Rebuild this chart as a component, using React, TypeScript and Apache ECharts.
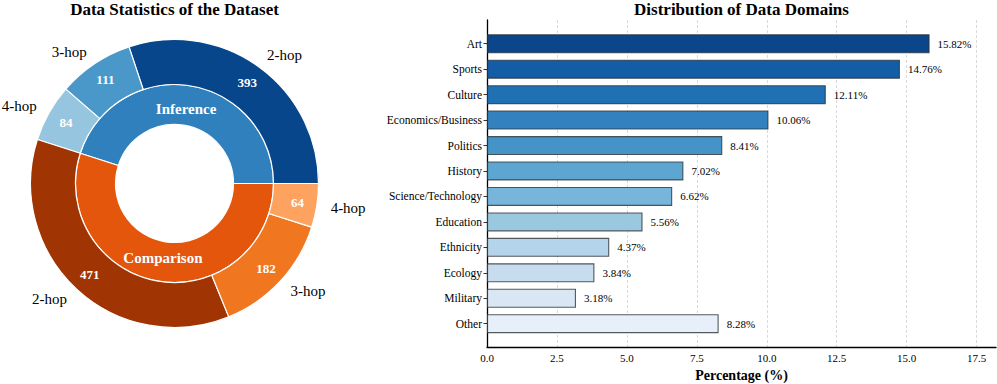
import React, { useEffect, useRef } from "react";
import * as echarts from "echarts";

// ---- Data: donut (left) ----
const hopLabels = ["2-hop", "3-hop", "4-hop"];
const inferenceHops = [393, 111, 84];
const comparisonHops = [471, 182, 64];
const groupNames = ["Inference", "Comparison"];
const inferenceColors = ["#08468c", "#4a98c9", "#96c5df"];
const comparisonColors = ["#a03503", "#f07620", "#fda35f"];
const groupColors = ["#3080bd", "#e4560c"];

// ---- Data: bar chart (right) ----
const domains = [
  "Art", "Sports", "Culture", "Economics/Business", "Politics", "History",
  "Science/Technology", "Education", "Ethnicity", "Ecology", "Military", "Other",
];
const domainPercents = [15.82, 14.76, 12.11, 10.06, 8.41, 7.02, 6.62, 5.56, 4.37, 3.84, 3.18, 8.28];
const domainColors = [
  "#0a4689", "#125da6", "#2070b4", "#3382bf", "#4594c8", "#5ea6d2",
  "#78b5da", "#9ac8e1", "#b3d4ea", "#c8dcf0", "#d9e7f5", "#e7f0fa",
];
const xTickInterval = 2.5;

const FONT = "'Liberation Serif', 'DejaVu Serif', serif";

export default function App() {
  const ref = useRef<HTMLDivElement>(null);

  useEffect(() => {
    document.body.style.margin = "0";
    if (!ref.current) return;
    const chart = echarts.init(ref.current, undefined, { renderer: "svg" });

    const cx = 174.5;
    const cy = 183.5;
    const rHole = 59;
    const rMid = 99;
    const rOut = 144;

    const outerData = [
      ...inferenceHops.map((v, i) => ({ name: hopLabels[i], value: v, itemStyle: { color: inferenceColors[i] } })),
      ...comparisonHops.map((v, i) => ({ name: hopLabels[i], value: v, itemStyle: { color: comparisonColors[i] } })),
    ];
    const sum = (a: number[]) => a.reduce((s, v) => s + v, 0);
    const innerData = [
      { name: groupNames[0], value: sum(inferenceHops), itemStyle: { color: groupColors[0] } },
      { name: groupNames[1], value: sum(comparisonHops), itemStyle: { color: groupColors[1] } },
    ];

    const xMax = Math.max(...domainPercents) * 1.15;
    const gridLeft = 487;
    const gridWidth = 509;

    const pieBase = {
      type: "pie",
      center: [cx, cy],
      startAngle: 0,
      clockwise: false,
      silent: true,
      avoidLabelOverlap: false,
      emphasis: { disabled: true },
      labelLine: { show: false },
    };

    const option: any = {
      animation: false,
      backgroundColor: "#ffffff",
      textStyle: { fontFamily: FONT },
      graphic: [
        {
          type: "text",
          x: cx,
          y: 9,
          style: {
            text: "Data Statistics of the Dataset",
            fill: "#000",
            font: `bold 17px ${FONT}`,
            align: "center",
            verticalAlign: "middle",
          },
        },
        {
          type: "text",
          x: gridLeft + gridWidth / 2,
          y: 9,
          style: {
            text: "Distribution of Data Domains",
            fill: "#000",
            font: `bold 17px ${FONT}`,
            align: "center",
            verticalAlign: "middle",
          },
        },
        {
          type: "text",
          x: gridLeft + gridWidth / 2,
          y: 375,
          style: {
            text: "Percentage (%)",
            fill: "#000",
            font: `bold 14px ${FONT}`,
            align: "center",
            verticalAlign: "middle",
          },
        },
      ],
      grid: [
        { left: gridLeft, top: 20, width: gridWidth, height: 327, containLabel: false },
        { left: gridLeft, top: 31, width: gridWidth, height: 305.4, containLabel: false },
      ],
      xAxis: [
        {
          gridIndex: 0,
          type: "value",
          min: 0,
          max: xMax,
          interval: xTickInterval,
          axisLine: { show: true, lineStyle: { color: "#000", width: 1.3 } },
          axisTick: { show: false },
          axisLabel: {
            show: true,
            color: "#000",
            fontSize: 11,
            fontFamily: FONT,
            margin: 5,
            showMaxLabel: false,
            formatter: (v: number) => v.toFixed(1),
          },
          splitLine: {
            show: true,
            showMinLine: false,
            showMaxLine: false,
            lineStyle: { color: "#d0d0d0", type: [3, 2], width: 0.8 },
          },
        },
        {
          gridIndex: 1,
          type: "value",
          min: 0,
          max: xMax,
          show: false,
        },
      ],
      yAxis: [
        {
          gridIndex: 0,
          type: "value",
          min: 0,
          max: 1,
          axisLine: { show: true, lineStyle: { color: "#000", width: 1.3 } },
          axisTick: { show: false },
          axisLabel: { show: false },
          splitLine: { show: false },
        },
        {
          gridIndex: 1,
          type: "category",
          inverse: true,
          data: domains,
          axisLine: { show: false },
          axisTick: { show: true, alignWithLabel: true, length: 3.5, lineStyle: { color: "#000", width: 0.8 } },
          axisLabel: { color: "#000", fontSize: 11.5, fontFamily: FONT, margin: 5 },
          splitLine: { show: false },
        },
      ],
      series: [
        {
          type: "bar",
          xAxisIndex: 1,
          yAxisIndex: 1,
          barWidth: 19,
          silent: true,
          data: domainPercents.map((v, i) => ({
            value: v,
            itemStyle: { color: domainColors[i] },
          })),
          itemStyle: { borderColor: "rgba(45,50,55,0.8)", borderWidth: 1.1 },
          label: {
            show: true,
            position: "right",
            distance: 8,
            color: "#000",
            fontSize: 11,
            fontFamily: FONT,
            formatter: (p: any) => `${Number(p.value).toFixed(2)}%`,
          },
        },
        {
          ...pieBase,
          radius: [rHole, rMid],
          data: innerData,
          itemStyle: { borderColor: "#fff", borderWidth: 1.2 },
          label: { show: false },
        },
        {
          ...pieBase,
          radius: [rHole, rMid - 14],
          data: innerData.map((d) => ({ name: d.name, value: d.value })),
          itemStyle: { color: "rgba(0,0,0,0)", borderWidth: 0 },
          label: {
            show: true,
            position: "inside",
            formatter: "{b}",
            color: "#fff",
            fontSize: 15,
            fontWeight: "bold",
            fontFamily: FONT,
          },
        },
        {
          ...pieBase,
          radius: [rMid, rOut],
          data: outerData,
          itemStyle: { borderColor: "#fff", borderWidth: 1.2 },
          label: {
            show: true,
            position: "inside",
            formatter: "{c}",
            color: "#fff",
            fontSize: 13,
            fontWeight: "bold",
            fontFamily: FONT,
          },
        },
        {
          ...pieBase,
          radius: [rMid, rOut],
          data: outerData.map((d) => ({ name: d.name, value: d.value })),
          itemStyle: { color: "rgba(0,0,0,0)", borderWidth: 0 },
          label: {
            show: true,
            position: "outside",
            formatter: "{b}",
            color: "#000",
            fontSize: 15,
            fontFamily: FONT,
            distanceToLabelLine: 0,
          },
          labelLine: { show: false, length: 14, length2: 0 },
        },
      ],
    };

    chart.setOption(option);
    return () => {
      chart.dispose();
    };
  }, []);

  return <div ref={ref} style={{ width: 997, height: 384 }} />;
}
